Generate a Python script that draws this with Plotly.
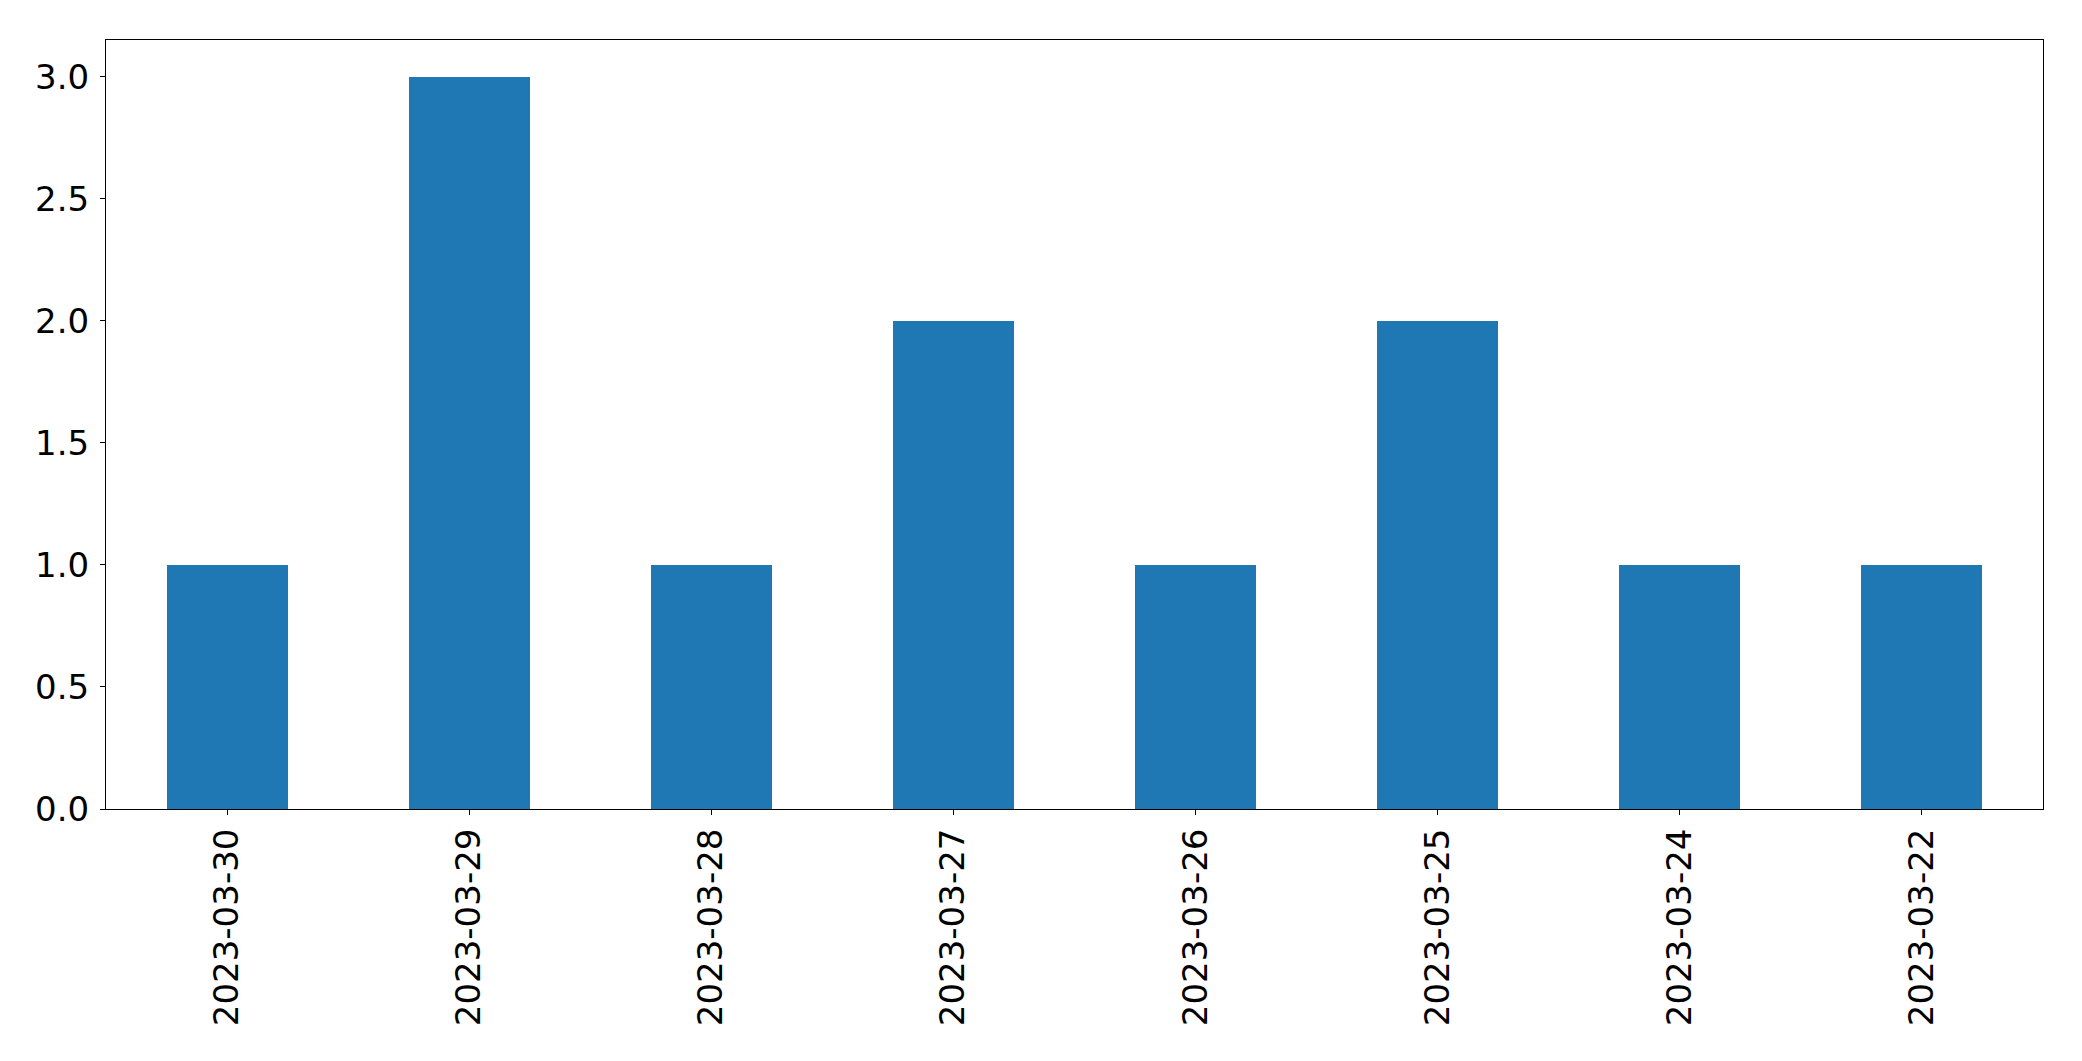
import plotly.graph_objects as go

categories = ["2023-03-30", "2023-03-29", "2023-03-28", "2023-03-27",
              "2023-03-26", "2023-03-25", "2023-03-24", "2023-03-22"]
values = [1, 3, 1, 2, 1, 2, 1, 1]
y_ticks = [0.0, 0.5, 1.0, 1.5, 2.0, 2.5, 3.0]

fig = go.Figure(go.Bar(x=categories, y=values, width=0.5,
                       marker=dict(color="#1f77b4", line=dict(width=0))))

axis_common = dict(showline=True, linecolor="black", linewidth=1, mirror=True,
                   ticks="outside", ticklen=5, tickwidth=1, tickcolor="black",
                   showgrid=False, zeroline=False,
                   tickfont=dict(family="DejaVu Sans", size=34, color="black"))

fig.update_layout(
    width=2082, height=1061,
    margin=dict(l=106, r=39, t=40, b=252, pad=0),
    paper_bgcolor="white", plot_bgcolor="white",
    showlegend=False, bargap=0,
    xaxis=dict(type="category", range=[-0.5, 7.5], tickangle=-90,
               ticklabelstandoff=0, **axis_common),
    yaxis=dict(range=[0, 3.15], tickvals=y_ticks, tickformat=".1f",
               ticklabelstandoff=4, **axis_common),
)

fig.write_html("out.html", config={"displayModeBar": False},
               post_script="document.body.style.margin='0';document.body.style.overflow='hidden';")
